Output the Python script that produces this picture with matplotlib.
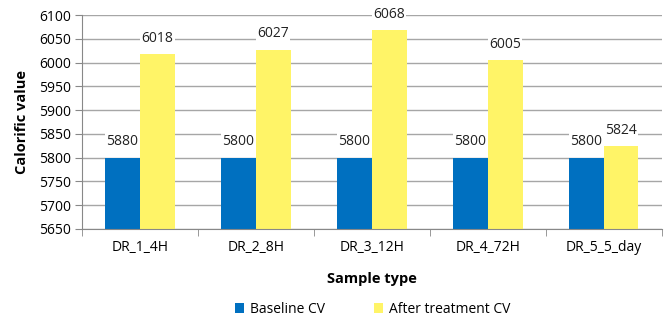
"""Baseline vs after-treatment calorific value per sample type."""

import matplotlib.pyplot as plt
import numpy as np

samples = ["DR_1_4H", "DR_2_8H", "DR_3_12H", "DR_4_72H", "DR_5_5_day"]
baseline_cv = [5800, 5800, 5800, 5800, 5800]
after_cv = [6018, 6027, 6068, 6005, 5824]
# labels as printed on the original chart
baseline_labels = ["5880", "5800", "5800", "5800", "5800"]
after_labels = ["6018", "6027", "6068", "6005", "5824"]

plt.rcParams["font.family"] = ["Open Sans", "DejaVu Sans"]

fig = plt.figure(figsize=(6.65, 3.21), dpi=100)
ax = fig.add_axes([0.123, 0.287, 0.872, 0.666])

x = np.arange(len(samples))
w = 0.3
bars_b = ax.bar(x - w / 2, baseline_cv, w, color="#0070C0", label="Baseline CV", zorder=2)
bars_a = ax.bar(x + w / 2, after_cv, w, color="#FFF467", label="After treatment CV", zorder=2)

for bars, labels in ((bars_b, baseline_labels), (bars_a, after_labels)):
    for bar, txt in zip(bars, labels):
        ax.annotate(txt, (bar.get_x() + bar.get_width() / 2, bar.get_height()),
                    xytext=(0, 6), textcoords="offset points", ha="center", va="bottom",
                    fontsize=10, color="#222222", zorder=3,
                    bbox=dict(boxstyle="square,pad=0.1", fc="white", ec="none"))

ax.set_ylim(5650, 6100)
ax.set_yticks(np.arange(5650, 6101, 50))
ax.set_xlim(-0.5, len(samples) - 0.5)
ax.set_xticks(x)
ax.set_xticklabels(samples)
ax.set_xticks(np.arange(-0.5, len(samples), 1), minor=True)
ax.tick_params(axis="x", which="major", length=0, pad=8, labelsize=10)
ax.tick_params(axis="x", which="minor", length=5, color="#888888")
ax.tick_params(axis="y", length=5, color="#888888", labelsize=10, pad=3)

ax.yaxis.grid(True, color="#A6A6A6", linewidth=1, zorder=0)
ax.set_axisbelow(True)
for side in ("top", "right"):
    ax.spines[side].set_visible(False)
for side in ("left", "bottom"):
    ax.spines[side].set_color("#888888")

ax.set_ylabel("Calorific value", fontsize=10.5, fontweight="bold", labelpad=7)
ax.set_xlabel("Sample type", fontsize=10.5, fontweight="bold", labelpad=12)

fig.legend(handles=[bars_b, bars_a], loc="lower center", bbox_to_anchor=(0.56, -0.025),
           ncol=2, frameon=False, fontsize=10, handlelength=0.7, handleheight=0.7,
           columnspacing=3.5, handletextpad=0.4)

fig.savefig("out.png", dpi=100)
plt.close(fig)
